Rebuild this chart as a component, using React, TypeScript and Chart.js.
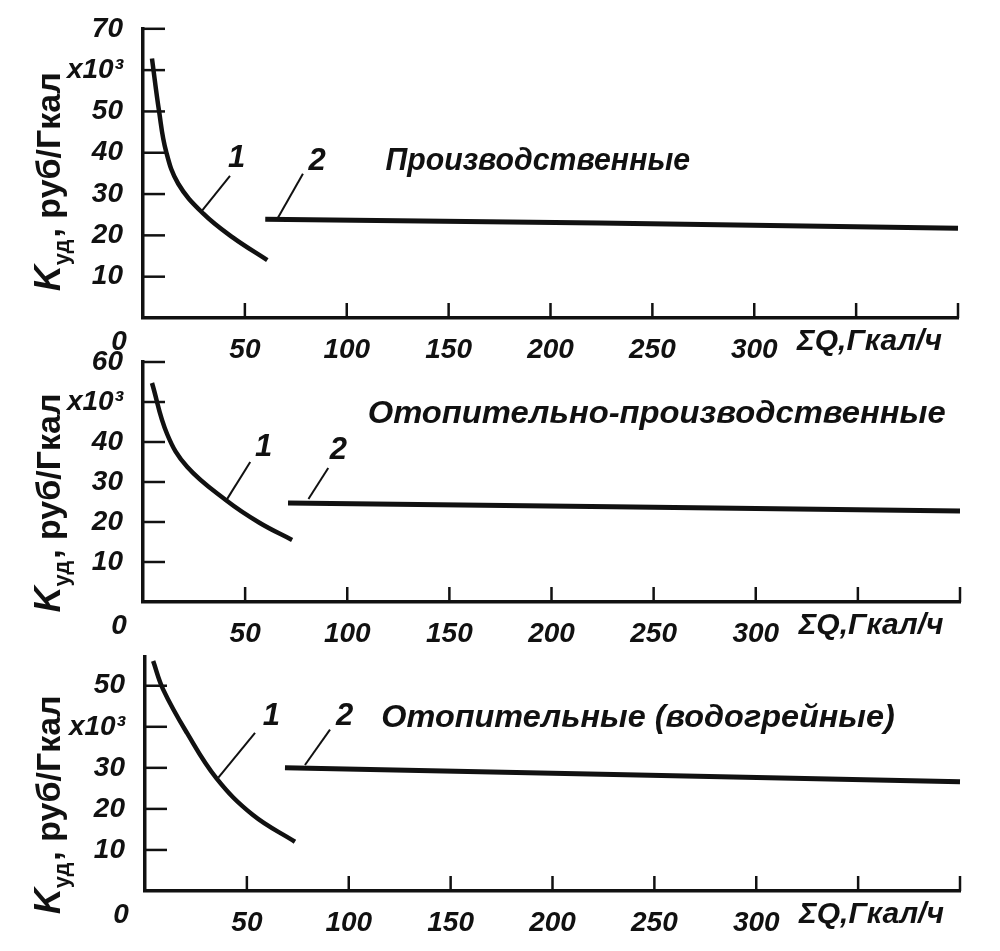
import React, { useEffect, useRef } from 'react';
import { Chart, registerables } from 'chart.js';

Chart.register(...registerables);

// ---------- shared axis data ----------
const X_TICKS = [0, 50, 100, 150, 200, 250, 300, 350, 400];
const X_TICK_LABELS = ['', '50', '100', '150', '200', '250', '300', '', ''];
const X_AXIS_TITLE = 'ΣQ,Гкал/ч';
const ORIGIN_LABEL = '0';

// ---------- panel 1: Производственные ----------
const P1_TITLE = 'Производственные';
const P1_Y_TICKS = [0, 10, 20, 30, 40, 50, 60, 70];
const P1_Y_LABELS = ['', '10', '20', '30', '40', '50', 'x10³', '70'];
const P1_CURVE1_X = [4.4, 7.9, 11.3, 17.3, 29.5, 44, 61];
const P1_CURVE1_Y = [62.8, 50, 40.4, 32.5, 25.3, 19.5, 14];
const P1_LINE2_X = [60, 224, 400];
const P1_LINE2_Y = [23.9, 23.0, 21.7];

// ---------- panel 2: Отопительно-производственные ----------
const P2_TITLE = 'Отопительно-производственные';
const P2_Y_TICKS = [0, 10, 20, 30, 40, 50, 60];
const P2_Y_LABELS = ['', '10', '20', '30', '40', 'x10³', '60'];
const P2_CURVE1_X = [4.4, 11.8, 21.6, 41, 57, 73];
const P2_CURVE1_Y = [54.75, 42, 33.8, 25.3, 19.8, 15.5];
const P2_LINE2_X = [71, 230, 400];
const P2_LINE2_Y = [24.75, 23.8, 22.75];

// ---------- panel 3: Отопительные (водогрейные) ----------
const P3_TITLE = 'Отопительные (водогрейные)';
const P3_Y_TICKS = [0, 10, 20, 30, 40, 50];
const P3_Y_LABELS = ['', '10', '20', '30', 'x10³', '50'];
const P3_CURVE1_X = [4, 9, 20.6, 35, 53, 73.6];
const P3_CURVE1_Y = [56, 49, 38.5, 27.5, 18.5, 12];
const P3_LINE2_X = [68.7, 230, 400];
const P3_LINE2_Y = [30, 28.4, 26.6];

const Y_TITLE_MAIN = 'K';
const Y_TITLE_SUB = 'уд';
const Y_TITLE_REST = ', руб/Гкал';
const CURVE_LABELS = ['1', '2'];

const INK = '#111';
const FONT = "'Liberation Sans', 'DejaVu Sans', sans-serif";

type Panel = {
  top: number; height: number; padTop: number; xAxisH: number; yAxisW: number; padRight: number;
  yMax: number; yTicks: number[]; yLabels: string[];
  c1x: number[]; c1y: number[]; l2x: number[]; l2y: number[];
  lead1: number[][]; lead2: number[][]; num1: number[]; num2: number[];
  title: string; titleX: number[]; titleY: number; yTitleY: number; qX: number;
};

const PANELS: Panel[] = [
  {
    top: 0, height: 360, padTop: 27, xAxisH: 42, yAxisW: 143, padRight: 42,
    yMax: 70, yTicks: P1_Y_TICKS, yLabels: P1_Y_LABELS,
    c1x: P1_CURVE1_X, c1y: P1_CURVE1_Y, l2x: P1_LINE2_X, l2y: P1_LINE2_Y,
    lead1: [[42.7, 34.4], [29, 26]], lead2: [[78.5, 34.9], [66.3, 24.3]],
    num1: [46, 38.5], num2: [85.4, 38],
    title: P1_TITLE, titleX: [119, 268.5], titleY: 38, yTitleY: 33, qX: 321,
  },
  {
    top: 330, height: 320, padTop: 32, xAxisH: 48, yAxisW: 143, padRight: 40,
    yMax: 60, yTicks: P2_Y_TICKS, yLabels: P2_Y_LABELS,
    c1x: P2_CURVE1_X, c1y: P2_CURVE1_Y, l2x: P2_LINE2_X, l2y: P2_LINE2_Y,
    lead1: [[52.5, 35], [41, 25.6]], lead2: [[90.7, 33.5], [81, 25.75]],
    num1: [59, 38.75], num2: [95.6, 38],
    title: P2_TITLE, titleX: [110, 393], titleY: 47, yTitleY: 24.75, qX: 321,
  },
  {
    top: 625, height: 326, padTop: 32, xAxisH: 60, yAxisW: 145, padRight: 40,
    yMax: 57, yTicks: P3_Y_TICKS, yLabels: P3_Y_LABELS,
    c1x: P3_CURVE1_X, c1y: P3_CURVE1_Y, l2x: P3_LINE2_X, l2y: P3_LINE2_Y,
    lead1: [[54, 38.5], [36, 27.6]], lead2: [[90.8, 39.3], [78.5, 30.7]],
    num1: [62, 42.4], num2: [98, 42.4],
    title: P3_TITLE, titleX: [116, 368], titleY: 42.2, yTitleY: 21, qX: 321,
  },
];

const zip = (xs: number[], ys: number[]) => xs.map((x, i) => ({ x, y: ys[i] }));

const annotPlugin = {
  id: 'annot',
  afterDraw(chart: any, _args: any, opts: any) {
    const p: Panel = opts.panel;
    const { ctx } = chart;
    const x = chart.scales.x;
    const y = chart.scales.y;
    const left = chart.chartArea.left;
    const bottom = chart.chartArea.bottom;
    ctx.save();
    ctx.strokeStyle = INK;
    ctx.fillStyle = INK;
    ctx.lineWidth = 2.5;
    // inward y ticks (pointing right, into the plot)
    p.yTicks.forEach((v) => {
      if (v === 0) return;
      const py = y.getPixelForValue(v);
      ctx.beginPath();
      ctx.moveTo(left, py);
      ctx.lineTo(left + 22, py);
      ctx.stroke();
    });
    // upward x ticks
    X_TICKS.forEach((v) => {
      if (v === 0) return;
      const px = x.getPixelForValue(v);
      ctx.beginPath();
      ctx.moveTo(px, bottom);
      ctx.lineTo(px, bottom - 15);
      ctx.stroke();
    });
    // origin label
    ctx.font = `italic bold 28px ${FONT}`;
    ctx.textAlign = 'center';
    ctx.textBaseline = 'middle';
    ctx.fillText(ORIGIN_LABEL, left - 24, bottom + 24);
    // x axis title
    ctx.font = `italic bold 30px ${FONT}`;
    ctx.textAlign = 'left';
    ctx.fillText(X_AXIS_TITLE, x.getPixelForValue(p.qX), bottom + 24);
    // curve numbers
    ctx.font = `italic bold 31px ${FONT}`;
    ctx.textAlign = 'center';
    ctx.fillText(CURVE_LABELS[0], x.getPixelForValue(p.num1[0]), y.getPixelForValue(p.num1[1]));
    ctx.fillText(CURVE_LABELS[1], x.getPixelForValue(p.num2[0]), y.getPixelForValue(p.num2[1]));
    // title stretched over its span
    ctx.font = `italic bold 32px ${FONT}`;
    ctx.textAlign = 'left';
    const tx0 = x.getPixelForValue(p.titleX[0]);
    const tx1 = x.getPixelForValue(p.titleX[1]);
    const ty = y.getPixelForValue(p.titleY);
    const w = ctx.measureText(p.title).width;
    ctx.save();
    ctx.translate(tx0, ty);
    ctx.scale((tx1 - tx0) / w, 1);
    ctx.fillText(p.title, 0, 0);
    ctx.restore();
    // y axis title, rotated, with subscript
    const cy = y.getPixelForValue(p.yTitleY);
    ctx.save();
    ctx.translate(60, cy);
    ctx.rotate(-Math.PI / 2);
    ctx.textAlign = 'left';
    ctx.textBaseline = 'alphabetic';
    const fMain = `italic bold 36px ${FONT}`;
    const fSub = `bold 22px ${FONT}`;
    const fRest = `bold 34px ${FONT}`;
    ctx.font = fMain; const wK = ctx.measureText(Y_TITLE_MAIN).width;
    ctx.font = fSub; const wS = ctx.measureText(Y_TITLE_SUB).width;
    ctx.font = fRest; const wR = ctx.measureText(Y_TITLE_REST).width;
    const total = wK + wS + wR + 2;
    let cx = -total / 2;
    ctx.font = fMain; ctx.fillText(Y_TITLE_MAIN, cx, 0); cx += wK;
    ctx.font = fSub; ctx.fillText(Y_TITLE_SUB, cx, 9); cx += wS + 2;
    ctx.font = fRest; ctx.fillText(Y_TITLE_REST, cx, 0);
    ctx.restore();
    ctx.restore();
  },
};

function PanelChart({ p }: { p: Panel }) {
  const ref = useRef<HTMLCanvasElement | null>(null);
  useEffect(() => {
    if (!ref.current) return;
    const tickFont = { family: FONT, size: 28, style: 'italic' as const, weight: 'bold' as const };
    const chart = new Chart(ref.current, {
      type: 'line',
      data: {
        datasets: [
          { data: zip(p.c1x, p.c1y), borderColor: INK, borderWidth: 4.5, pointRadius: 0, tension: 0.4, clip: false } as any,
          { data: zip(p.l2x, p.l2y), borderColor: INK, borderWidth: 5, pointRadius: 0, tension: 0, clip: false } as any,
          { data: p.lead1.map(([x, y]) => ({ x, y })), borderColor: INK, borderWidth: 2, pointRadius: 0, tension: 0 } as any,
          { data: p.lead2.map(([x, y]) => ({ x, y })), borderColor: INK, borderWidth: 2, pointRadius: 0, tension: 0 } as any,
        ],
      },
      options: {
        responsive: false,
        animation: false,
        events: [],
        layout: { padding: { top: p.padTop, left: 0, right: p.padRight, bottom: 0 } },
        plugins: {
          legend: { display: false },
          tooltip: { enabled: false },
          annot: { panel: p },
        } as any,
        scales: {
          x: {
            type: 'linear',
            min: 0,
            max: 400,
            grid: { display: false },
            border: { display: true, color: INK, width: 3.5 },
            afterBuildTicks: (s: any) => { s.ticks = X_TICKS.map((v) => ({ value: v })); },
            afterFit: (s: any) => { s.height = p.xAxisH; },
            ticks: {
              autoSkip: false, maxRotation: 0, minRotation: 0, padding: 7,
              color: INK, font: tickFont,
              callback: (v: any) => X_TICK_LABELS[X_TICKS.indexOf(Number(v))] ?? '',
            },
          },
          y: {
            type: 'linear',
            min: 0,
            max: p.yMax,
            grid: { display: false },
            border: { display: true, color: INK, width: 3.5 },
            afterBuildTicks: (s: any) => { s.ticks = p.yTicks.map((v) => ({ value: v })); },
            afterFit: (s: any) => { s.width = p.yAxisW; },
            ticks: {
              autoSkip: false, padding: 12, color: INK, font: tickFont,
              callback: (v: any) => p.yLabels[p.yTicks.indexOf(Number(v))] ?? '',
            },
          },
        },
      },
      plugins: [annotPlugin as any],
    });
    return () => chart.destroy();
  }, [p]);
  return (
    <canvas
      ref={ref}
      width={1000}
      height={p.height}
      style={{ position: 'absolute', left: 0, top: p.top, width: 1000, height: p.height }}
    />
  );
}

export default function App() {
  return (
    <div style={{ position: 'absolute', left: 0, top: 0, width: 1000, height: 951, background: '#fff', overflow: 'hidden' }}>
      {PANELS.map((p, i) => (
        <PanelChart key={i} p={p} />
      ))}
    </div>
  );
}
